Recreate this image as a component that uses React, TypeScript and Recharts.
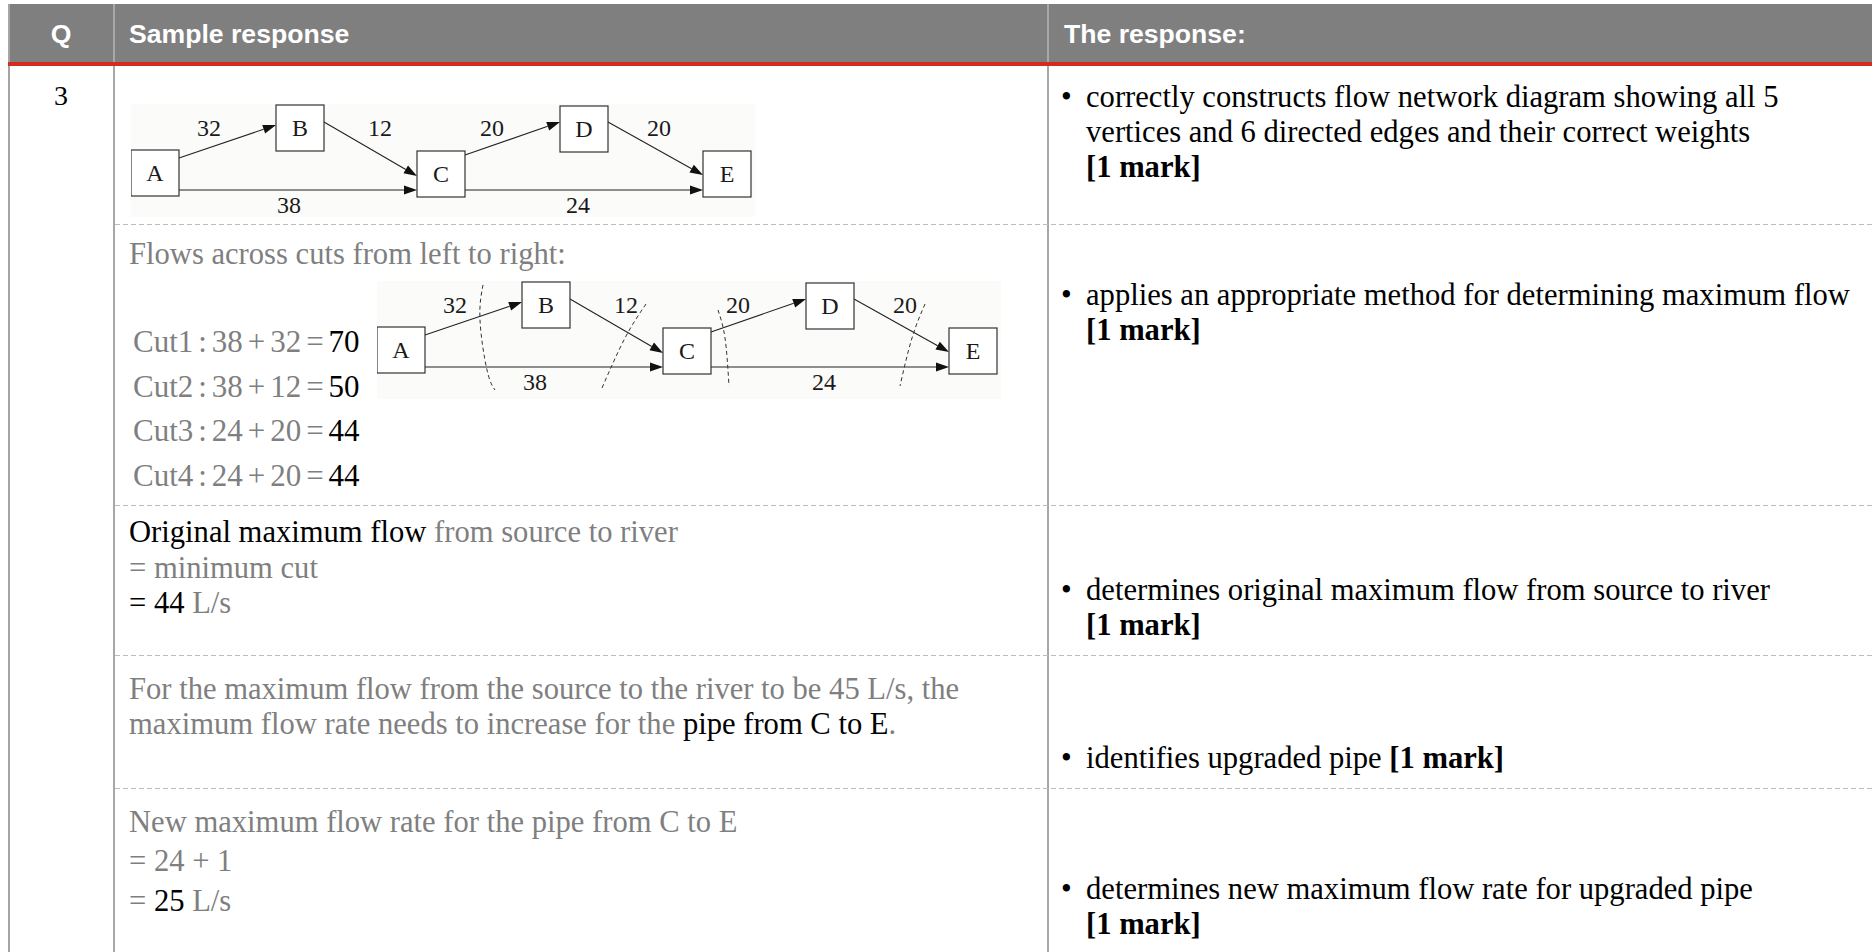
import React from 'react';
import { ScatterChart, Scatter, XAxis, YAxis, ReferenceLine } from 'recharts';

// flow network, coordinates in diagram units (1 unit = 1px)
const NODE_NAMES = ['A', 'B', 'C', 'D', 'E'];
const NODE_X = [24, 169, 310, 453, 596];
const NODE_Y = [69, 24, 70, 25, 70];

const EDGE_WEIGHTS = [32, 12, 38, 20, 20, 24];
const EDGE_START_X = [48, 193, 48, 334, 477, 334];
const EDGE_START_Y = [54, 18, 86, 51, 18, 86];
const EDGE_END_X = [145, 286, 286, 429, 572, 572];
const EDGE_END_Y = [21, 72, 86, 18, 71, 86];
const WEIGHT_X = [78, 249, 158, 361, 528, 447];
const WEIGHT_Y = [24, 24, 101, 24, 24, 101];

// dashed cut curves (second diagram)
const CUT_X = [
  [106, 103, 110, 118],
  [269, 248, 225],
  [341, 348, 352],
  [548, 535, 523],
];
const CUT_Y = [
  [4, 39, 89, 109],
  [23, 57, 107],
  [29, 57, 105],
  [23, 57, 105],
];
const CUT_LABELS = ['Cut1', 'Cut2', 'Cut3', 'Cut4'];
const CUT_TERM_A = [38, 38, 24, 24];
const CUT_TERM_B = [32, 12, 20, 20];
const CUT_TOTALS = [70, 50, 44, 44];

const SERIF = '"Liberation Serif", "Times New Roman", serif';
const SANS = '"Liberation Sans", Arial, sans-serif';
const GRAY = '#7f7f7f';
const INK = '#222';
const FS = 30.6;

const nodeData = NODE_NAMES.map((name, i) => ({ name, x: NODE_X[i], y: NODE_Y[i] }));
const weightData = EDGE_WEIGHTS.map((w, i) => ({ name: String(w), x: WEIGHT_X[i], y: WEIGHT_Y[i] }));

const Arrow = (props: any) => {
  const { x1, y1, x2, y2 } = props;
  const a = Math.atan2(y2 - y1, x2 - x1);
  const len = 13;
  const hw = 4.5;
  const bx = x2 - len * Math.cos(a);
  const by = y2 - len * Math.sin(a);
  const px = -Math.sin(a) * hw;
  const py = Math.cos(a) * hw;
  return (
    <g>
      <line x1={x1} y1={y1} x2={bx} y2={by} stroke={INK} strokeWidth={1.1} />
      <polygon points={`${x2},${y2} ${bx + px},${by + py} ${bx - px},${by - py}`} fill="#111" />
    </g>
  );
};

const NodeBox = (props: any) => {
  const { cx, cy, payload } = props;
  return (
    <g>
      <rect x={cx - 24} y={cy - 23} width={48} height={46} fill="#fff" stroke="#333" strokeWidth={1.2} />
      <text x={cx} y={cy + 8} textAnchor="middle" fontSize={24} fontFamily={SERIF} fill="#1a1a1a">
        {payload.name}
      </text>
    </g>
  );
};

const WeightLabel = (props: any) => {
  const { cx, cy, payload } = props;
  return (
    <text x={cx} y={cy + 8} textAnchor="middle" fontSize={24} fontFamily={SERIF} fill="#1a1a1a">
      {payload.name}
    </text>
  );
};

const FlowDiagram = ({ width, height, cuts }: { width: number; height: number; cuts?: boolean }) => (
  <ScatterChart
    width={width}
    height={height}
    margin={{ top: 0, right: 0, bottom: 0, left: 0 }}
    style={{ background: '#fbfbfa' }}
  >
    <XAxis type="number" dataKey="x" domain={[0, width]} allowDataOverflow hide />
    <YAxis type="number" dataKey="y" domain={[0, height]} allowDataOverflow reversed hide />
    {EDGE_WEIGHTS.map((w, i) => (
      <ReferenceLine
        key={`e${i}`}
        segment={[
          { x: EDGE_START_X[i], y: EDGE_START_Y[i] },
          { x: EDGE_END_X[i], y: EDGE_END_Y[i] },
        ]}
        ifOverflow="visible"
        shape={Arrow}
      />
    ))}
    {cuts &&
      CUT_X.map((xs, i) => (
        <Scatter
          key={`c${i}`}
          name={CUT_LABELS[i]}
          data={xs.map((x, j) => ({ x, y: CUT_Y[i][j] }))}
          line={{ stroke: '#333', strokeWidth: 1, strokeDasharray: '4 3' }}
          lineJointType="natural"
          shape={() => <g />}
          isAnimationActive={false}
        />
      ))}
    <Scatter data={nodeData} shape={NodeBox} isAnimationActive={false} />
    <Scatter data={weightData} shape={WeightLabel} isAnimationActive={false} />
  </ScatterChart>
);

const T = ({
  x,
  base,
  size = FS,
  bold,
  color = '#000',
  children,
  style,
}: {
  x: number;
  base: number;
  size?: number;
  bold?: boolean;
  color?: string;
  children: React.ReactNode;
  style?: React.CSSProperties;
}) => (
  <div
    style={{
      position: 'absolute',
      left: x,
      top: base + 2 - 0.8375 * size,
      fontSize: size,
      lineHeight: 1,
      fontFamily: SERIF,
      whiteSpace: 'nowrap',
      color,
      fontWeight: bold ? 700 : 400,
      ...style,
    }}
  >
    {children}
  </div>
);

const Bullet = ({ base, children }: { base: number; children: React.ReactNode }) => (
  <>
    <T x={1061} base={base}>•</T>
    <T x={1086} base={base}>{children}</T>
  </>
);

const box = (left: number, top: number, width: number, height: number, background: string): React.CSSProperties => ({
  position: 'absolute',
  left,
  top,
  width,
  height,
  background,
});

const dashed = (top: number): React.CSSProperties => ({
  position: 'absolute',
  left: 115,
  top,
  width: 1757,
  height: 1,
  background: 'repeating-linear-gradient(to right, #bdbdbd 0 5px, transparent 5px 8px)',
});

const headerText: React.CSSProperties = {
  position: 'absolute',
  top: 21,
  fontFamily: SANS,
  fontWeight: 700,
  fontSize: 26.6,
  lineHeight: 1,
  color: '#fff',
  whiteSpace: 'nowrap',
};

export default function App() {
  return (
    <div style={{ position: 'absolute', left: 0, top: 0, width: 1872, height: 952, background: '#fff', overflow: 'hidden' }}>
      {/* header */}
      <div style={box(8, 4, 1864, 58, '#7f7f7f')} />
      <div style={box(8, 4, 2, 948, '#a5a5a5')} />
      <div style={box(113, 4, 2, 948, '#a8a8a8')} />
      <div style={box(1047, 4, 2, 948, '#a8a8a8')} />
      <div style={box(8, 62, 1864, 4, '#d52b1e')} />
      <div style={{ ...headerText, left: 8, width: 106, textAlign: 'center' }}>Q</div>
      <div style={{ ...headerText, left: 129 }}>Sample response</div>
      <div style={{ ...headerText, left: 1064 }}>The response:</div>

      {/* row separators */}
      <div style={dashed(224)} />
      <div style={dashed(505)} />
      <div style={dashed(655)} />
      <div style={dashed(788)} />

      {/* question number */}
      <div
        style={{
          position: 'absolute',
          left: 8,
          width: 106,
          top: 105.5 - 0.8375 * 28,
          fontSize: 28,
          lineHeight: 1,
          fontFamily: SERIF,
          textAlign: 'center',
        }}
      >
        3
      </div>

      {/* row 1 */}
      <div style={{ position: 'absolute', left: 131, top: 104 }}>
        <FlowDiagram width={624} height={113} />
      </div>
      <Bullet base={106}>correctly constructs flow network diagram showing all 5</Bullet>
      <T x={1086} base={141}>vertices and 6 directed edges and their correct weights</T>
      <T x={1086} base={176} bold>[1 mark]</T>

      {/* row 2 */}
      <T x={129} base={263} color={GRAY}>Flows across cuts from left to right:</T>
      {CUT_LABELS.map((label, i) => (
        <T key={label} x={133} base={350 + i * 44.7} size={31} color={GRAY} style={{ wordSpacing: -2.8 }}>
          {label} : {CUT_TERM_A[i]} + {CUT_TERM_B[i]} = <span style={{ color: '#000' }}>{CUT_TOTALS[i]}</span>
        </T>
      ))}
      <div style={{ position: 'absolute', left: 377, top: 281 }}>
        <FlowDiagram width={624} height={118} cuts />
      </div>
      <Bullet base={304}>applies an appropriate method for determining maximum flow</Bullet>
      <T x={1086} base={339} bold>[1 mark]</T>

      {/* row 3 */}
      <T x={129} base={541}>
        Original maximum flow<span style={{ color: GRAY }}> from source to river</span>
      </T>
      <T x={129} base={577} color={GRAY}>= minimum cut</T>
      <T x={129} base={612}>
        = 44 <span style={{ color: GRAY }}>L/s</span>
      </T>
      <Bullet base={599}>determines original maximum flow from source to river</Bullet>
      <T x={1086} base={634} bold>[1 mark]</T>

      {/* row 4 */}
      <T x={129} base={698} color={GRAY}>For the maximum flow from the source to the river to be 45 L/s, the</T>
      <T x={129} base={733} color={GRAY}>
        maximum flow rate needs to increase for the <span style={{ color: '#000' }}>pipe from C to E</span>.
      </T>
      <Bullet base={767}>
        identifies upgraded pipe <b>[1 mark]</b>
      </Bullet>

      {/* row 5 */}
      <T x={129} base={831} color={GRAY}>New maximum flow rate for the pipe from C to E</T>
      <T x={129} base={870} color={GRAY}>= 24 + 1</T>
      <T x={129} base={910} color={GRAY}>
        = <span style={{ color: '#000' }}>25</span> L/s
      </T>
      <Bullet base={898}>determines new maximum flow rate for upgraded pipe</Bullet>
      <T x={1086} base={933} bold>[1 mark]</T>
    </div>
  );
}
